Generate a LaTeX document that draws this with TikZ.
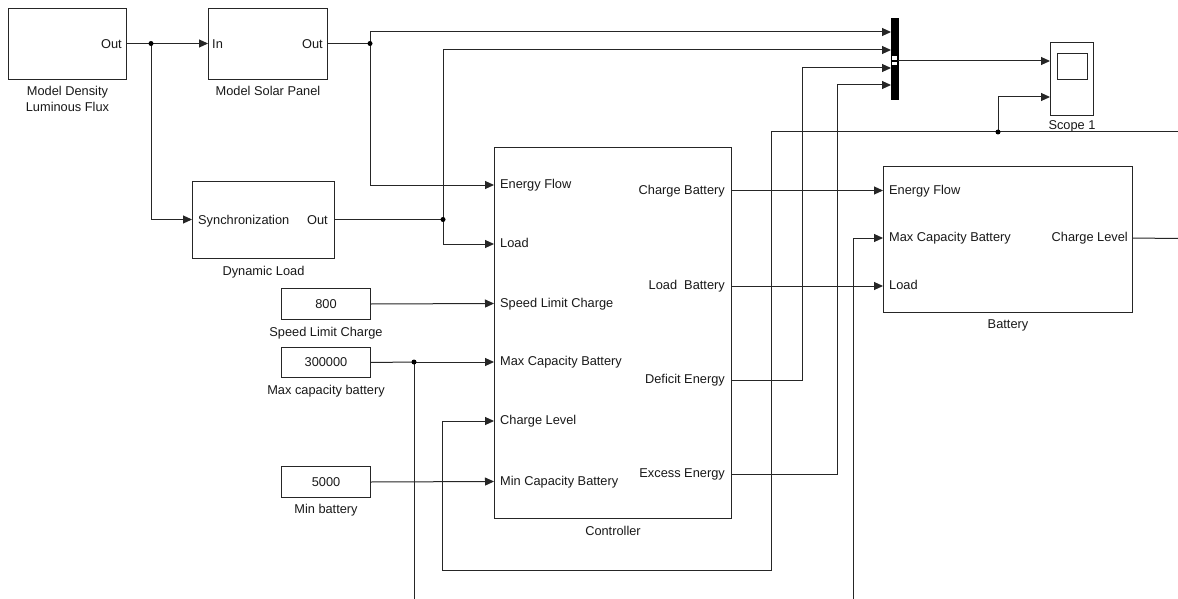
\documentclass[tikz,border=0pt]{standalone}
\usepackage{fontspec}
\setmainfont{Liberation Sans}
\usetikzlibrary{arrows.meta}
\begin{document}
\begin{tikzpicture}[x=1pt,y=-1pt,
  wire/.style={draw=black!85, line width=1pt},
  arr/.style={wire, -{Triangle[length=9pt,width=8pt]}},
  blk/.style={draw=black!85, line width=1pt, fill=white, inner sep=0pt, anchor=north west,
              font=\fontsize{12.8}{14}\selectfont},
  txt/.style={font=\fontsize{12.8}{16}\selectfont, inner sep=0pt, text=black!90},
  lw/.style={txt, anchor=base west},
  le/.style={txt, anchor=base east},
  capt/.style={txt, anchor=base, align=center},
  jdot/.style={circle, fill=black, inner sep=0pt, minimum size=5pt}]
\useasboundingbox (0,0) rectangle (1178,599);
\fill[white] (0,0) rectangle (1178,599);

% ---------- blocks ----------
\node[blk, minimum width=118pt, minimum height=71pt] (ldf) at (8,8) {};
\node[blk, minimum width=119pt, minimum height=71pt] (sp) at (208,8) {};
\node[blk, minimum width=142pt, minimum height=77pt] (dl) at (192,181) {};
\node[blk, minimum width=237pt, minimum height=371pt] (ctrl) at (494,147) {};
\node[blk, minimum width=249pt, minimum height=146pt] (bat) at (883,166) {};
\node[blk, minimum width=89pt, minimum height=31pt] (c800) at (281,288) {};
\node[blk, minimum width=89pt, minimum height=30pt] (c300) at (281,347) {};
\node[blk, minimum width=89pt, minimum height=31pt] (c5000) at (281,466) {};
\node[txt] at (c800.center) {800};
\node[txt] at (c300.center) {300000};
\node[txt] at (c5000.center) {5000};
\node[blk, fill=black, draw=black, minimum width=7pt, minimum height=81pt] (mux) at (891,18) {};
\node[blk, minimum width=43pt, minimum height=73pt] (scope) at (1050,42) {};
\node[blk, minimum width=30pt, minimum height=26pt] (screen) at (1057,53) {};
% mux output port marks
\fill[white] (892.3,56.5) rectangle (896.7,60.2);
\fill[white] (892.3,61.8) rectangle (896.7,65.5);

% ---------- captions ----------
\node[capt] at ([shift={(0,32)}]ldf.south) {Model Density\\Luminous Flux};
\node[capt] at ([shift={(0,16)}]sp.south) {Model Solar Panel};
\node[capt] at ([shift={(0,16.5)}]dl.south) {Dynamic Load};
\node[capt] at ([shift={(0,16)}]ctrl.south) {Controller};
\node[capt] at ([shift={(0,15)}]bat.south) {Battery};
\node[capt] at ([shift={(0,16)}]c800.south) {Speed Limit Charge};
\node[capt] at ([shift={(0,16)}]c300.south) {Max capacity battery};
\node[capt] at ([shift={(0,15)}]c5000.south) {Min battery};
\node[capt] at ([shift={(0,14)}]scope.south) {Scope 1};

% ---------- ports ----------
\coordinate (ldf-out) at (126,43.5);
\coordinate (sp-in) at (208,43.5);
\coordinate (sp-out) at (327,43.5);
\coordinate (dl-in) at (192,219.5);
\coordinate (dl-out) at (334,219.5);
\coordinate (ctrl-ef) at (494,185);
\coordinate (ctrl-ld) at (494,244);
\coordinate (ctrl-slc) at (494,303.5);
\coordinate (ctrl-mcb) at (494,362);
\coordinate (ctrl-cl) at (494,421);
\coordinate (ctrl-mncb) at (494,481.5);
\coordinate (ctrl-cb) at (731,190.5);
\coordinate (ctrl-lb) at (731,286);
\coordinate (ctrl-de) at (731,380);
\coordinate (ctrl-ee) at (731,474);
\coordinate (bat-ef) at (883,190.5);
\coordinate (bat-mcb) at (883,238);
\coordinate (bat-ld) at (883,286);
\coordinate (bat-cl) at (1132,238);
\coordinate (mux-in1) at (891,32);
\coordinate (mux-in2) at (891,50);
\coordinate (mux-in3) at (891,68);
\coordinate (mux-in4) at (891,85);
\coordinate (mux-out) at (898,61);
\coordinate (sc-in1) at (1050,61);
\coordinate (sc-in2) at (1050,97);

% port labels
\node[le] at ([shift={(-4,5)}]ldf-out) {Out};
\node[lw] at ([shift={(4,5)}]sp-in) {In};
\node[le] at ([shift={(-4,5)}]sp-out) {Out};
\node[lw] at ([shift={(6,4.5)}]dl-in) {Synchronization};
\node[le] at ([shift={(-6,4.5)}]dl-out) {Out};
\node[lw] at ([shift={(6,3.5)}]ctrl-ef) {Energy Flow};
\node[lw] at ([shift={(6,3.5)}]ctrl-ld) {Load};
\node[lw] at ([shift={(6,3.5)}]ctrl-slc) {Speed Limit Charge};
\node[lw] at ([shift={(6,3.5)}]ctrl-mcb) {Max Capacity Battery};
\node[lw] at ([shift={(6,3.5)}]ctrl-cl) {Charge Level};
\node[lw] at ([shift={(6,3.5)}]ctrl-mncb) {Min Capacity Battery};
\node[le] at ([shift={(-6,3.5)}]ctrl-cb) {Charge Battery};
\node[le] at ([shift={(-6,3.5)}]ctrl-lb) {Load\ \ Battery};
\node[le] at ([shift={(-6,3.5)}]ctrl-de) {Deficit Energy};
\node[le] at ([shift={(-6,3.5)}]ctrl-ee) {Excess Energy};
\node[lw] at ([shift={(6,3.5)}]bat-ef) {Energy Flow};
\node[lw] at ([shift={(6,3.5)}]bat-mcb) {Max Capacity Battery};
\node[lw] at ([shift={(6,3.5)}]bat-ld) {Load};
\node[le] at ([shift={(-4,3.5)}]bat-cl) {Charge Level};

% ---------- junctions and bends ----------
\coordinate (j1) at (151,43.5);
\coordinate (j2) at (370,43.5);
\coordinate (j3) at (443,219.5);
\coordinate (j4) at (414,362);
\coordinate (j5) at (998,132);
\coordinate (offA) at (1178,132);
\coordinate (b1) at (771,132);
\coordinate (b2) at (771,570);
\coordinate (b3) at (442,570);
\coordinate (b4) at (442,421);
\coordinate (offB) at (414,599);
\coordinate (offC) at (853,599);
\coordinate (offD) at (1178,238.5);
\coordinate (b5) at (802,68);
\coordinate (b6) at (837,85);

% ---------- wires ----------
\draw[arr] (ldf-out) -- (sp-in);
\draw[arr] (j1) |- (dl-in);
\draw[wire] (sp-out) -- (j2);
\draw[arr] (j2) |- (mux-in1);
\draw[arr] (j2) |- (ctrl-ef);
\draw[wire] (dl-out) -- (j3);
\draw[arr] (j3) |- (mux-in2);
\draw[arr] (j3) |- (ctrl-ld);
\draw[arr] (c800.east) -- (ctrl-slc);
\draw[wire] (c300.east) -- (j4);
\draw[arr] (j4) -- (ctrl-mcb);
\draw[wire] (j4) -- (offB);
\draw[arr] (c5000.east) -- (ctrl-mncb);
\draw[arr] (offA) -- (b1) -- (b2) -- (b3) -- (b4) -- (ctrl-cl);
\draw[arr] (j5) |- (sc-in2);
\draw[arr] (mux-out) -- (sc-in1);
\draw[arr] (ctrl-cb) -- (bat-ef);
\draw[arr] (ctrl-lb) -- (bat-ld);
\draw[arr] (ctrl-de) -| (b5) -- (mux-in3);
\draw[arr] (ctrl-ee) -| (b6) -- (mux-in4);
\draw[arr] (offC) |- (bat-mcb);
\draw[wire] (bat-cl) -- (offD);

\node[jdot] at (j1) {};
\node[jdot] at (j2) {};
\node[jdot] at (j3) {};
\node[jdot] at (j4) {};
\node[jdot] at (j5) {};
\end{tikzpicture}
\end{document}
